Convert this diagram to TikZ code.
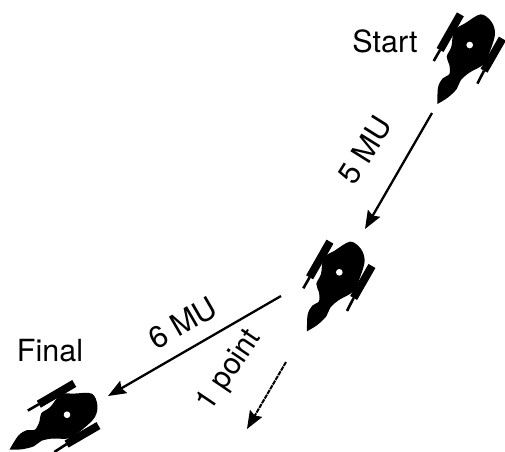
\documentclass[tikz,border=0pt]{standalone}
\usepackage{fontspec}
\setmainfont{TeX Gyre Heros}
\usetikzlibrary{arrows.meta}
\tikzset{
  shippic/.pic={
    \begin{scope}[scale=0.3333,shift={(-179,-135)}]
      \fill[black] plot[smooth,tension=0.55] coordinates {(82,312) (84,262) (98,235) (118,222) (118,195) (110,170) (124,140) (132,92) (165,70) (212,43) (244,65) (255,100) (243,145) (221,192) (178,218) (152,241) (140,267) (113,293) (82,312)} -- cycle;
      \draw[gunthick] (151,43) -- (90,150);
      \draw[gunthin] (90,150) -- (71,183);
      \draw[gunthick] (277,116) -- (222,212);
      \draw[gunthin] (222,212) -- (202,251);
      \fill[white] (179,135) circle (10);
    \end{scope}
  },
  gunthick/.style={line width=8pt,line cap=butt},
  gunthin/.style={line width=2.6pt,line cap=butt},
  move/.style={line width=2.3pt,-{Stealth[length=18pt,width=14pt,inset=2.5pt]}},
  movedash/.style={line width=2pt,dash pattern=on 4.5pt off 0.9pt,-{Stealth[length=18pt,width=14pt,inset=2.5pt]}},
  lbl/.style={font=\fontsize{30.5pt}{32pt}\selectfont,inner sep=0pt}
}
\begin{document}
\begin{tikzpicture}[x=1pt,y=-1pt]
\useasboundingbox (0,0) rectangle (505,451);
\pic at (469.7,45) {shippic};
\pic at (339.3,272.3) {shippic};
\pic[rotate=-30] at (67,414.7) {shippic};
\node[lbl] (start) at (385,41) {Start};
\node[lbl] (final) at (50,351) {Final};
\node[lbl,rotate=58] (five) at (365,150) {5 MU};
\node[lbl,rotate=30] (six) at (183,323) {6 MU};
\node[lbl,rotate=56,font=\fontsize{30pt}{32pt}\selectfont] (one) at (230,371) {1 point};
\coordinate (a) at (432,113);
\coordinate (b) at (365,229);
\coordinate (c) at (281,296);
\coordinate (d) at (108,396);
\coordinate (e) at (286,362);
\coordinate (f) at (247,429);
\draw[move] (a) -- (b);
\draw[move] (c) -- (d);
\draw[movedash] (e) -- (f);
\end{tikzpicture}
\end{document}
